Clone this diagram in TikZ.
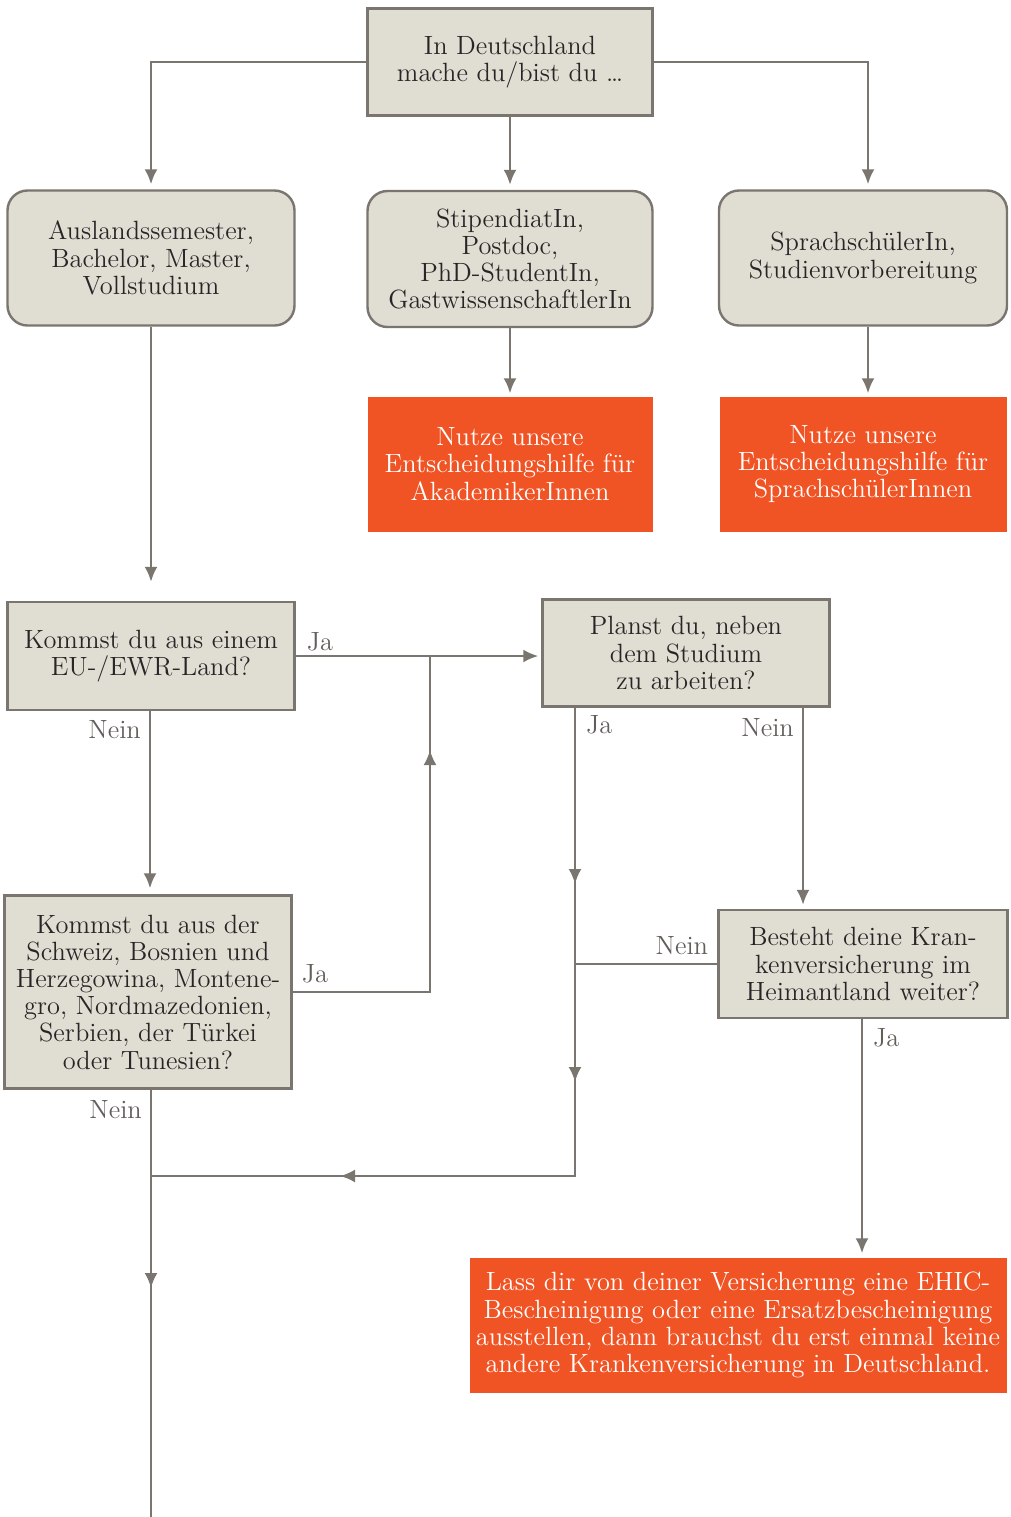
\documentclass[tikz,border=0pt]{standalone}
\usetikzlibrary{arrows.meta}
\definecolor{boxfill}{HTML}{E0DDD3}
\definecolor{boxline}{HTML}{7A756F}
\definecolor{advicefill}{HTML}{F05324}
\begin{document}
\begin{tikzpicture}[x=0.5pt, y=-0.5pt, line width=1.2pt,
    every node/.style={font=\fontsize{13.2}{13.6}\selectfont},
    main/.style={draw=boxline, fill=boxfill, align=center, inner sep=0pt, text=black!85},
    group/.style={main, rounded corners=10pt},
    advice/.style={fill=advicefill, text=white, align=center, inner sep=0pt},
    lbl/.style={text=boxline!80!black, inner sep=2pt},
    conn/.style={draw=boxline, -{Latex[length=7.5pt,width=6.5pt]}},
    plain/.style={draw=boxline}]
    \useasboundingbox (0,0) rectangle (1011,1517);

    % top of the chart
    \node[main, minimum width=142.5pt, minimum height=53.5pt] (start) at (510,62) {In Deutschland\\mache du/bist du \dots};
    \node[group, minimum width=143.5pt, minimum height=67.5pt] (abroad) at (151,258) {Auslandssemester,\\Bachelor, Master,\\Vollstudium};
    \node[group, minimum width=142.5pt, minimum height=68pt] (fellow) at (510,259) {StipendiatIn,\\Postdoc,\\PhD-StudentIn,\\GastwissenschaftlerIn};
    \node[group, minimum width=144pt, minimum height=67.5pt] (lang) at (863,258) {SprachschülerIn,\\Studienvorbereitung};
    \node[advice, minimum width=142.5pt, minimum height=67.5pt] (acad) at (510,464) {Nutze unsere\\Entscheidungshilfe für\\AkademikerInnen};
    \node[advice, minimum width=143.5pt, minimum height=67.5pt] (langhelp) at (863,464) {Nutze unsere\\Entscheidungshilfe für\\SprachschülerInnen};

    % questions
    \node[main, minimum width=143.5pt, minimum height=54pt] (euland) at (151,656) {Kommst du aus einem\\EU-/EWR-Land?};
    \node[main, minimum width=143.5pt, minimum height=53.5pt] (work) at (686,653) {Planst du, neben\\dem Studium\\zu arbeiten?};
    \node[main, minimum width=143.5pt, minimum height=96.5pt] (balkan) at (148,992) {Kommst du aus der\\Schweiz, Bosnien und\\Herzegowina, Montene-\\gro, Nordmazedonien,\\Serbien, der Türkei\\oder Tunesien?};
    \node[main, minimum width=144.5pt, minimum height=54pt] (home) at (863,964) {Besteht deine Kran-\\kenversicherung im\\Heimantland weiter?};
    \node[advice, minimum width=268.5pt, minimum height=67.5pt] (ehic) at (738,1325) {Lass dir von deiner Versicherung eine EHIC-\\Bescheinigung oder eine Ersatzbescheinigung\\ausstellen, dann brauchst du erst einmal keine\\andere Krankenversicherung in Deutschland.};

    \coordinate (merge) at (430,656);
    \coordinate (up) at (430,750);
    \coordinate (yes) at (575,707);
    \coordinate (yesa) at (575,884);
    \coordinate (yesb) at (575,1082);
    \coordinate (yesend) at (575,1176);
    \coordinate (back) at (340,1176);
    \coordinate (corner) at (151,1176);
    \coordinate (down) at (151,1288);
    \coordinate (bottom) at (151,1517);
    \coordinate (no) at (803,707);

    % connectors
    \draw[conn, shorten >=2.5pt] (start.west) -| (abroad.north);
    \draw[conn, shorten >=2.5pt] (start.east) -| ([xshift=2.5pt]lang.north);
    \draw[conn, shorten >=2.5pt] (start) -- (fellow);
    \draw[conn, shorten >=1pt] (fellow) -- (acad);
    \draw[conn, shorten >=1pt] ([xshift=2.5pt]lang.south) -- ([xshift=2.5pt]langhelp.north);
    \draw[conn, shorten >=9.5pt] (abroad) -- (euland);

    \draw[conn, shorten >=1.5pt] (euland.east) -- node[lbl, pos=0, anchor=south west, xshift=3pt] {Ja} (euland.east -| work.west);
    \draw[conn, shorten >=3pt] ([xshift=-0.5pt]euland.south) -- node[lbl, pos=0.1, left, xshift=-2pt] {Nein} ([xshift=-0.5pt]euland.south |- balkan.north);
    \draw[plain] (balkan.east) -- node[lbl, pos=0, anchor=south west, xshift=2pt, yshift=2pt] {Ja} (balkan.east -| merge) -- (merge);
    \draw[conn] (balkan.east -| merge) -- (up);

    %\draw[conn] (yes) -- (yesend);
    \draw[plain] (yes) -- (yesend) -- (corner);
    \draw[conn] (yes) -- node[lbl, pos=0.1, right, xshift=3pt] {Ja} (yesa);
    \draw[conn] (yesa) -- (yesb);
    \draw[conn] (yesend) -- (back);
    \draw[conn, shorten >=2pt] (no) -- node[lbl, pos=0.1, left, xshift=-2pt] {Nein} (no |- home.north);
    \draw[plain] (home.west) -- node[lbl, pos=0, anchor=south east, xshift=-2pt, yshift=2pt] {Nein} (home.west -| yes);
    \draw[conn, shorten >=1.5pt] ([xshift=-0.5pt]home.south) -- node[lbl, pos=0.08, right, xshift=3pt] {Ja} ([xshift=-0.5pt]home.south |- ehic.north);

    \draw[plain] ([xshift=1.5pt]balkan.south) -- (bottom);
    \draw[conn] ([xshift=1.5pt]balkan.south) -- node[lbl, pos=0.1, left, xshift=-2pt] {Nein} (down);
\end{tikzpicture}
\end{document}
